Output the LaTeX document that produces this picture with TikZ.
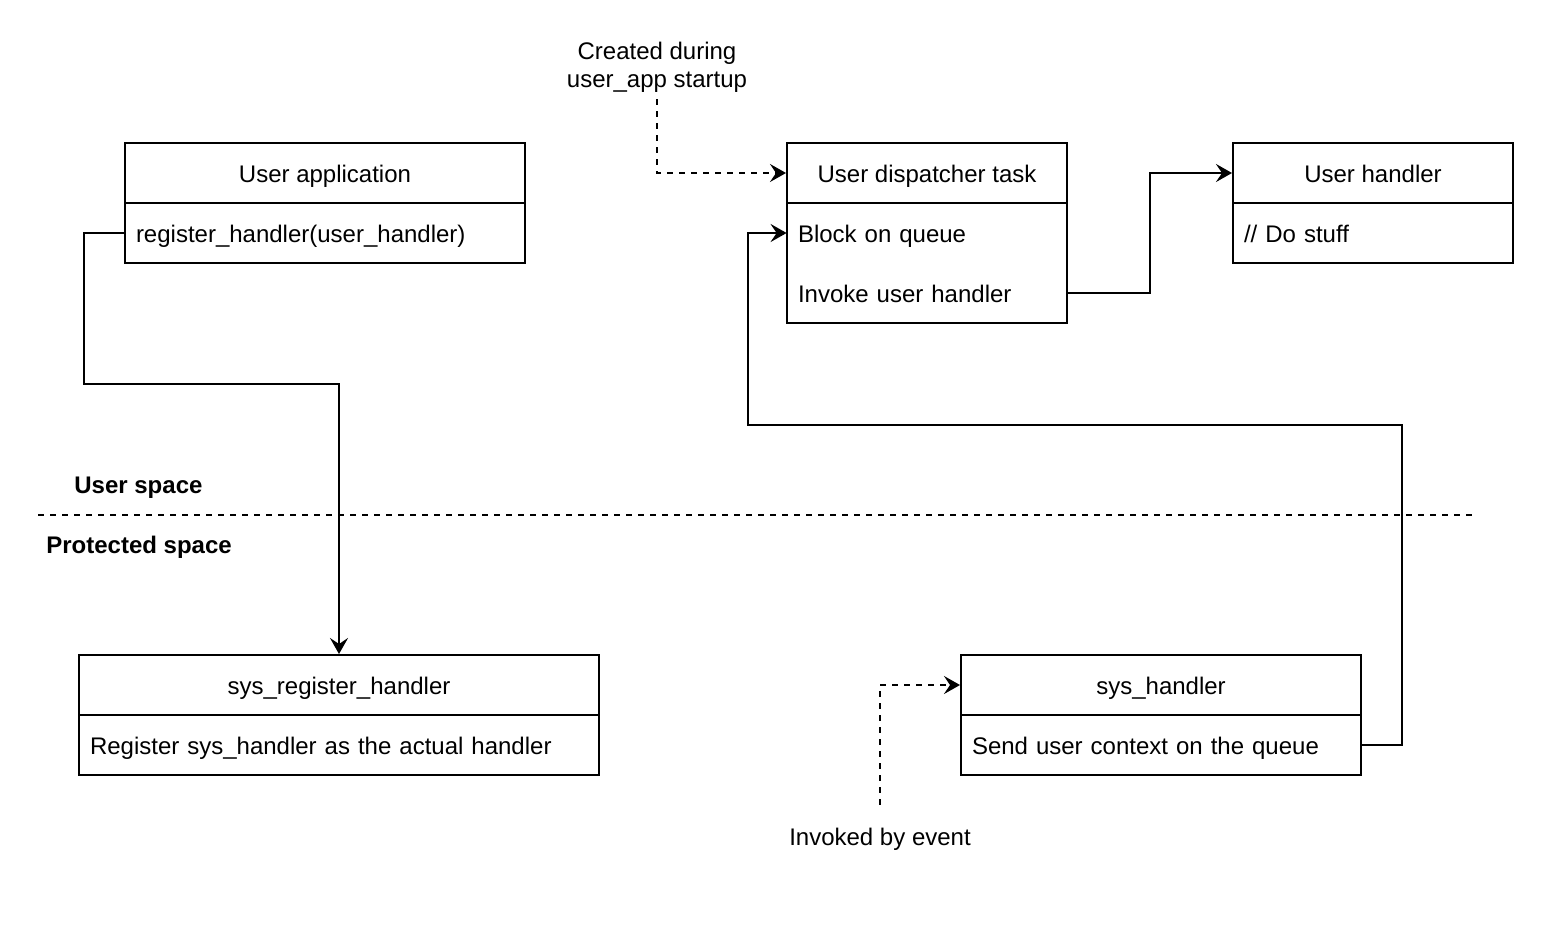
\documentclass[tikz,border=0pt]{standalone}
\usepackage{fontspec}
\setmainfont{Liberation Sans}
\usetikzlibrary{arrows.meta,positioning}

\begin{document}
\begin{tikzpicture}[
  x=0.5pt, y=-0.5pt,
  font=\fontsize{12pt}{14pt}\selectfont,
  head/.style={rectangle, draw, line width=1pt, minimum width=#1, minimum height=30pt, text height=10pt, text depth=1pt},
  item/.style={rectangle, draw, line width=1pt, text width=#1, inner xsep=5.5pt, minimum height=30pt, text height=10pt, text depth=1pt, align=left},
  row/.style={rectangle, text width=#1, inner xsep=5.5pt, minimum height=30pt, text height=10pt, text depth=1pt, align=left},
  flow/.style={-{Stealth[length=8pt,width=9pt,inset=3pt]}, line width=1pt},
  hint/.style={-{Stealth[length=8pt,width=9pt,inset=3pt]}, line width=1pt, dashed},
  node distance=30pt
]
\useasboundingbox (0,0) rectangle (1566,926);

% User space
\node[head=200pt] (app) at (325,173) {User application};
\node[item=189pt, below of=app] (reg) {register\_handler(user\_handler)};

\node[head=140pt] (disp) at (927,173) {User dispatcher task};
\node[row=129pt, below of=disp] (blk) {Block on queue};
\node[row=129pt, below of=blk] (inv) {Invoke user handler};
\draw[line width=1pt] (blk.north west) rectangle (inv.south east);

\node[head=140pt, right of=disp, node distance=223pt] (uh) {User handler};
\node[item=129pt, below of=uh] (stuff) {// Do stuff};

\node[align=center] (created) at (657,67) {Created during\\user\_app startup};

% Protected space
\node[head=260pt] (sysreg) at (339,685) {sys\_register\_handler};
\node[item=249pt, below of=sysreg] (regsys) {Register sys\_handler as the actual handler};

\node[head=200pt] (sysh) at (1161,685) {sys\_handler};
\node[item=189pt, below of=sysh] (send) {Send user context on the queue};

\node (event) at (880,839) {Invoked by event};

% Boundary
\draw[line width=1pt, dashed] (38,515) -- (1475,515);
\node[anchor=west, inner sep=0pt, font=\fontsize{12pt}{14pt}\selectfont\bfseries] (user) at (74,488) {User space};
\node[anchor=west, inner sep=0pt, font=\fontsize{12pt}{14pt}\selectfont\bfseries] (prot) at (46,547) {Protected space};

% Connectors
\draw[flow] (reg.west) -- ++(-40,0) -- ++(0,151) -| (sysreg.north);
\draw[flow] (inv.east) -- ++(83,0) |- (uh.west);
\draw[flow] (send.east) -- ++(40,0) -- ++(0,-320) -- ++(-654,0) |- (blk.west);
\draw[hint] (created.south) |- (disp.west);
\draw[hint] (event.north) ++(0,-16) |- (sysh.west);
\end{tikzpicture}
\end{document}
